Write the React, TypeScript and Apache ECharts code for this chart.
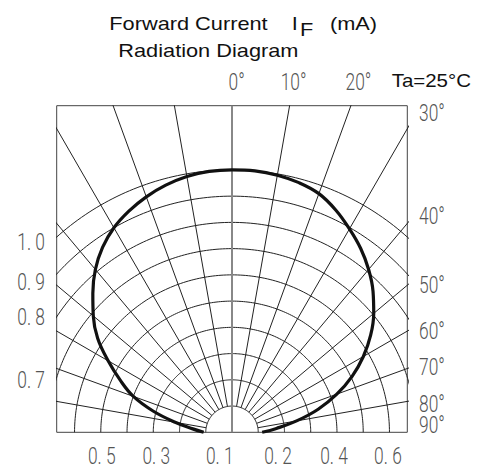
import React, { useEffect, useRef } from "react";
import * as echarts from "echarts";

// ---- data ----
const curveAngles = [0, 5, 10, 15, 20, 25, 30, 35, 40, 45, 50, 55, 60, 65, 70, 75, 80, 85, 90];
const rightIntensity = [1.0, 1.0, 0.995, 0.985, 0.968, 0.935, 0.895, 0.855, 0.81, 0.76, 0.705, 0.645, 0.578, 0.505, 0.425, 0.34, 0.25, 0.17, 0.115];
const leftIntensity = [1.0, 0.998, 0.99, 0.975, 0.955, 0.93, 0.9, 0.86, 0.81, 0.75, 0.69, 0.625, 0.545, 0.47, 0.4, 0.31, 0.22, 0.15, 0.108];
const ringValues = [0.1, 0.2, 0.3, 0.4, 0.5, 0.6, 0.7, 0.8, 0.9, 1.0];
const spokeAngles = [-80, -70, -60, -50, -40, -30, -20, -10, 10, 20, 30, 40, 50, 60, 70, 80];
const leftTickValues = [1.0, 0.9, 0.8, 0.7];
const leftTickLabels = ["1. 0", "0. 9", "0. 8", "0. 7"];
const bottomTickValues = [-0.5, -0.3, -0.1, 0.2, 0.4, 0.6];
const bottomTickLabels = ["0. 5", "0. 3", "0. 1", "0. 2", "0. 4", "0. 6"];
const topAngleValues = [0, 10, 20];
const topAngleLabels = ["0°", "10°", "20°"];
const sideAngleValues = [30, 40, 50, 60, 70, 80, 90];
const sideAngleLabels = ["30°", "40°", "50°", "60°", "70°", "80°", "90°"];

// ---- layout / style ----
const XMAX = 0.668;
const YMAX = 1.2447;
const NARROW = "Roboto, 'Liberation Sans', sans-serif";
const SANS = "'Liberation Sans', Arial, sans-serif";
const LABEL_COLOR = "#555";
const LABEL_SIZE = 23.5;
const LABEL_SCALE_X = 0.74;
const leftOffsets = [4.7, 7.7, 0, 2.6];
const bottomOffsets = [1, 3, 14, -6.5, -3, -1.5];
const topOffsets = [4.7, 4, 7.6];
const sideOffsets = [-16, -7, 0, 0, -1.5, 2.6, -7];

const rad = (d: number) => (d * Math.PI) / 180;
const toXY = (r: number, deg: number) => [r * Math.sin(rad(deg)), r * Math.cos(rad(deg))];

function buildOption() {
  const series: any[] = [];
  const base = { type: "line", showSymbol: false, symbol: "none", silent: true, clip: true, animation: false };

  ringValues.forEach((r) => {
    const pts: number[][] = [];
    for (let a = -90; a <= 90; a += 1) pts.push(toXY(r, a));
    series.push({ ...base, data: pts, lineStyle: { color: "#222", width: 1 }, z: 2 });
  });
  spokeAngles.forEach((a) => {
    series.push({ ...base, data: [toXY(ringValues[0], a), toXY(2, a)], lineStyle: { color: "#222", width: 1 }, z: 2 });
  });
  series.push({ ...base, data: [[0, 0], [0, YMAX]], lineStyle: { color: "#888", width: 2 }, z: 3 });

  const curve: number[][] = [];
  for (let i = curveAngles.length - 1; i >= 0; i--) curve.push(toXY(leftIntensity[i], -curveAngles[i]));
  for (let i = 1; i < curveAngles.length; i++) curve.push(toXY(rightIntensity[i], curveAngles[i]));
  series.push({ ...base, data: curve, smooth: 0.4, lineStyle: { color: "#111", width: 3.2 }, z: 5 });

  return {
    animation: false,
    backgroundColor: "#fff",
    grid: {
      show: true,
      left: 56.7,
      top: 105.7,
      width: 350.6,
      height: 326.6,
      borderColor: "#444",
      borderWidth: 1,
      backgroundColor: "transparent",
    },
    xAxis: { type: "value", min: -XMAX, max: XMAX, show: false, splitLine: { show: false } },
    yAxis: { type: "value", min: 0, max: YMAX, show: false, splitLine: { show: false } },
    series,
  };
}

const titleText = (text: string, x: number, y: number, scaleX: number) => ({
  type: "text",
  x,
  y,
  scaleX,
  silent: true,
  style: {
    text,
    fontSize: 18.6,
    fontFamily: SANS,
    fill: "#111",
    align: "left",
    verticalAlign: "middle",
  },
});

const labelText = (text: string, x: number, y: number, align: string) => ({
  type: "text",
  x,
  y,
  scaleX: LABEL_SCALE_X,
  silent: true,
  z: 20,
  style: {
    text,
    fontSize: LABEL_SIZE,
    fontFamily: NARROW,
    fontWeight: 300,
    fill: LABEL_COLOR,
    align,
    verticalAlign: "middle",
  },
});

function buildGraphics(chart: any) {
  const px = (p: number[]) => chart.convertToPixel({ gridIndex: 0 }, p) as number[];
  const g: any[] = [
    titleText("Forward Current", 109.3, 23.3, 1.17),
    titleText("I", 291.7, 23.3, 1.17),
    titleText("F", 300, 30, 1.17),
    titleText("(mA)", 330, 23.3, 1.17),
    titleText("Radiation Diagram", 118.3, 51, 1.17),
    titleText("Ta=25°C", 391.7, 80.7, 1.1),
  ];
  leftTickValues.forEach((r, i) => {
    const p = px([-XMAX, Math.sqrt(r * r - XMAX * XMAX)]);
    g.push(labelText(leftTickLabels[i], p[0] - 11.7, p[1] + leftOffsets[i], "right"));
  });
  bottomTickValues.forEach((v, i) => {
    const p = px([v, 0]);
    g.push(labelText(bottomTickLabels[i], p[0] + bottomOffsets[i], p[1] + 24, "center"));
  });
  topAngleValues.forEach((a, i) => {
    const p = px([YMAX * Math.tan(rad(a)), YMAX]);
    g.push(labelText(topAngleLabels[i], p[0] + topOffsets[i], p[1] - 24, "center"));
  });
  sideAngleValues.forEach((a, i) => {
    const p = px([XMAX, a === 90 ? 0 : XMAX / Math.tan(rad(a))]);
    g.push(labelText(sideAngleLabels[i], p[0] + 11.7, p[1] + sideOffsets[i], "left"));
  });
  return g;
}

export default function App() {
  const ref = useRef<HTMLDivElement>(null);
  useEffect(() => {
    if (!ref.current) return;
    const chart = echarts.init(ref.current, undefined, { renderer: "svg" });
    chart.setOption(buildOption() as any);
    chart.setOption({ graphic: buildGraphics(chart) } as any);
    return () => chart.dispose();
  }, []);
  return <div ref={ref} style={{ position: "absolute", left: 0, top: 0, width: 482, height: 470 }} />;
}
